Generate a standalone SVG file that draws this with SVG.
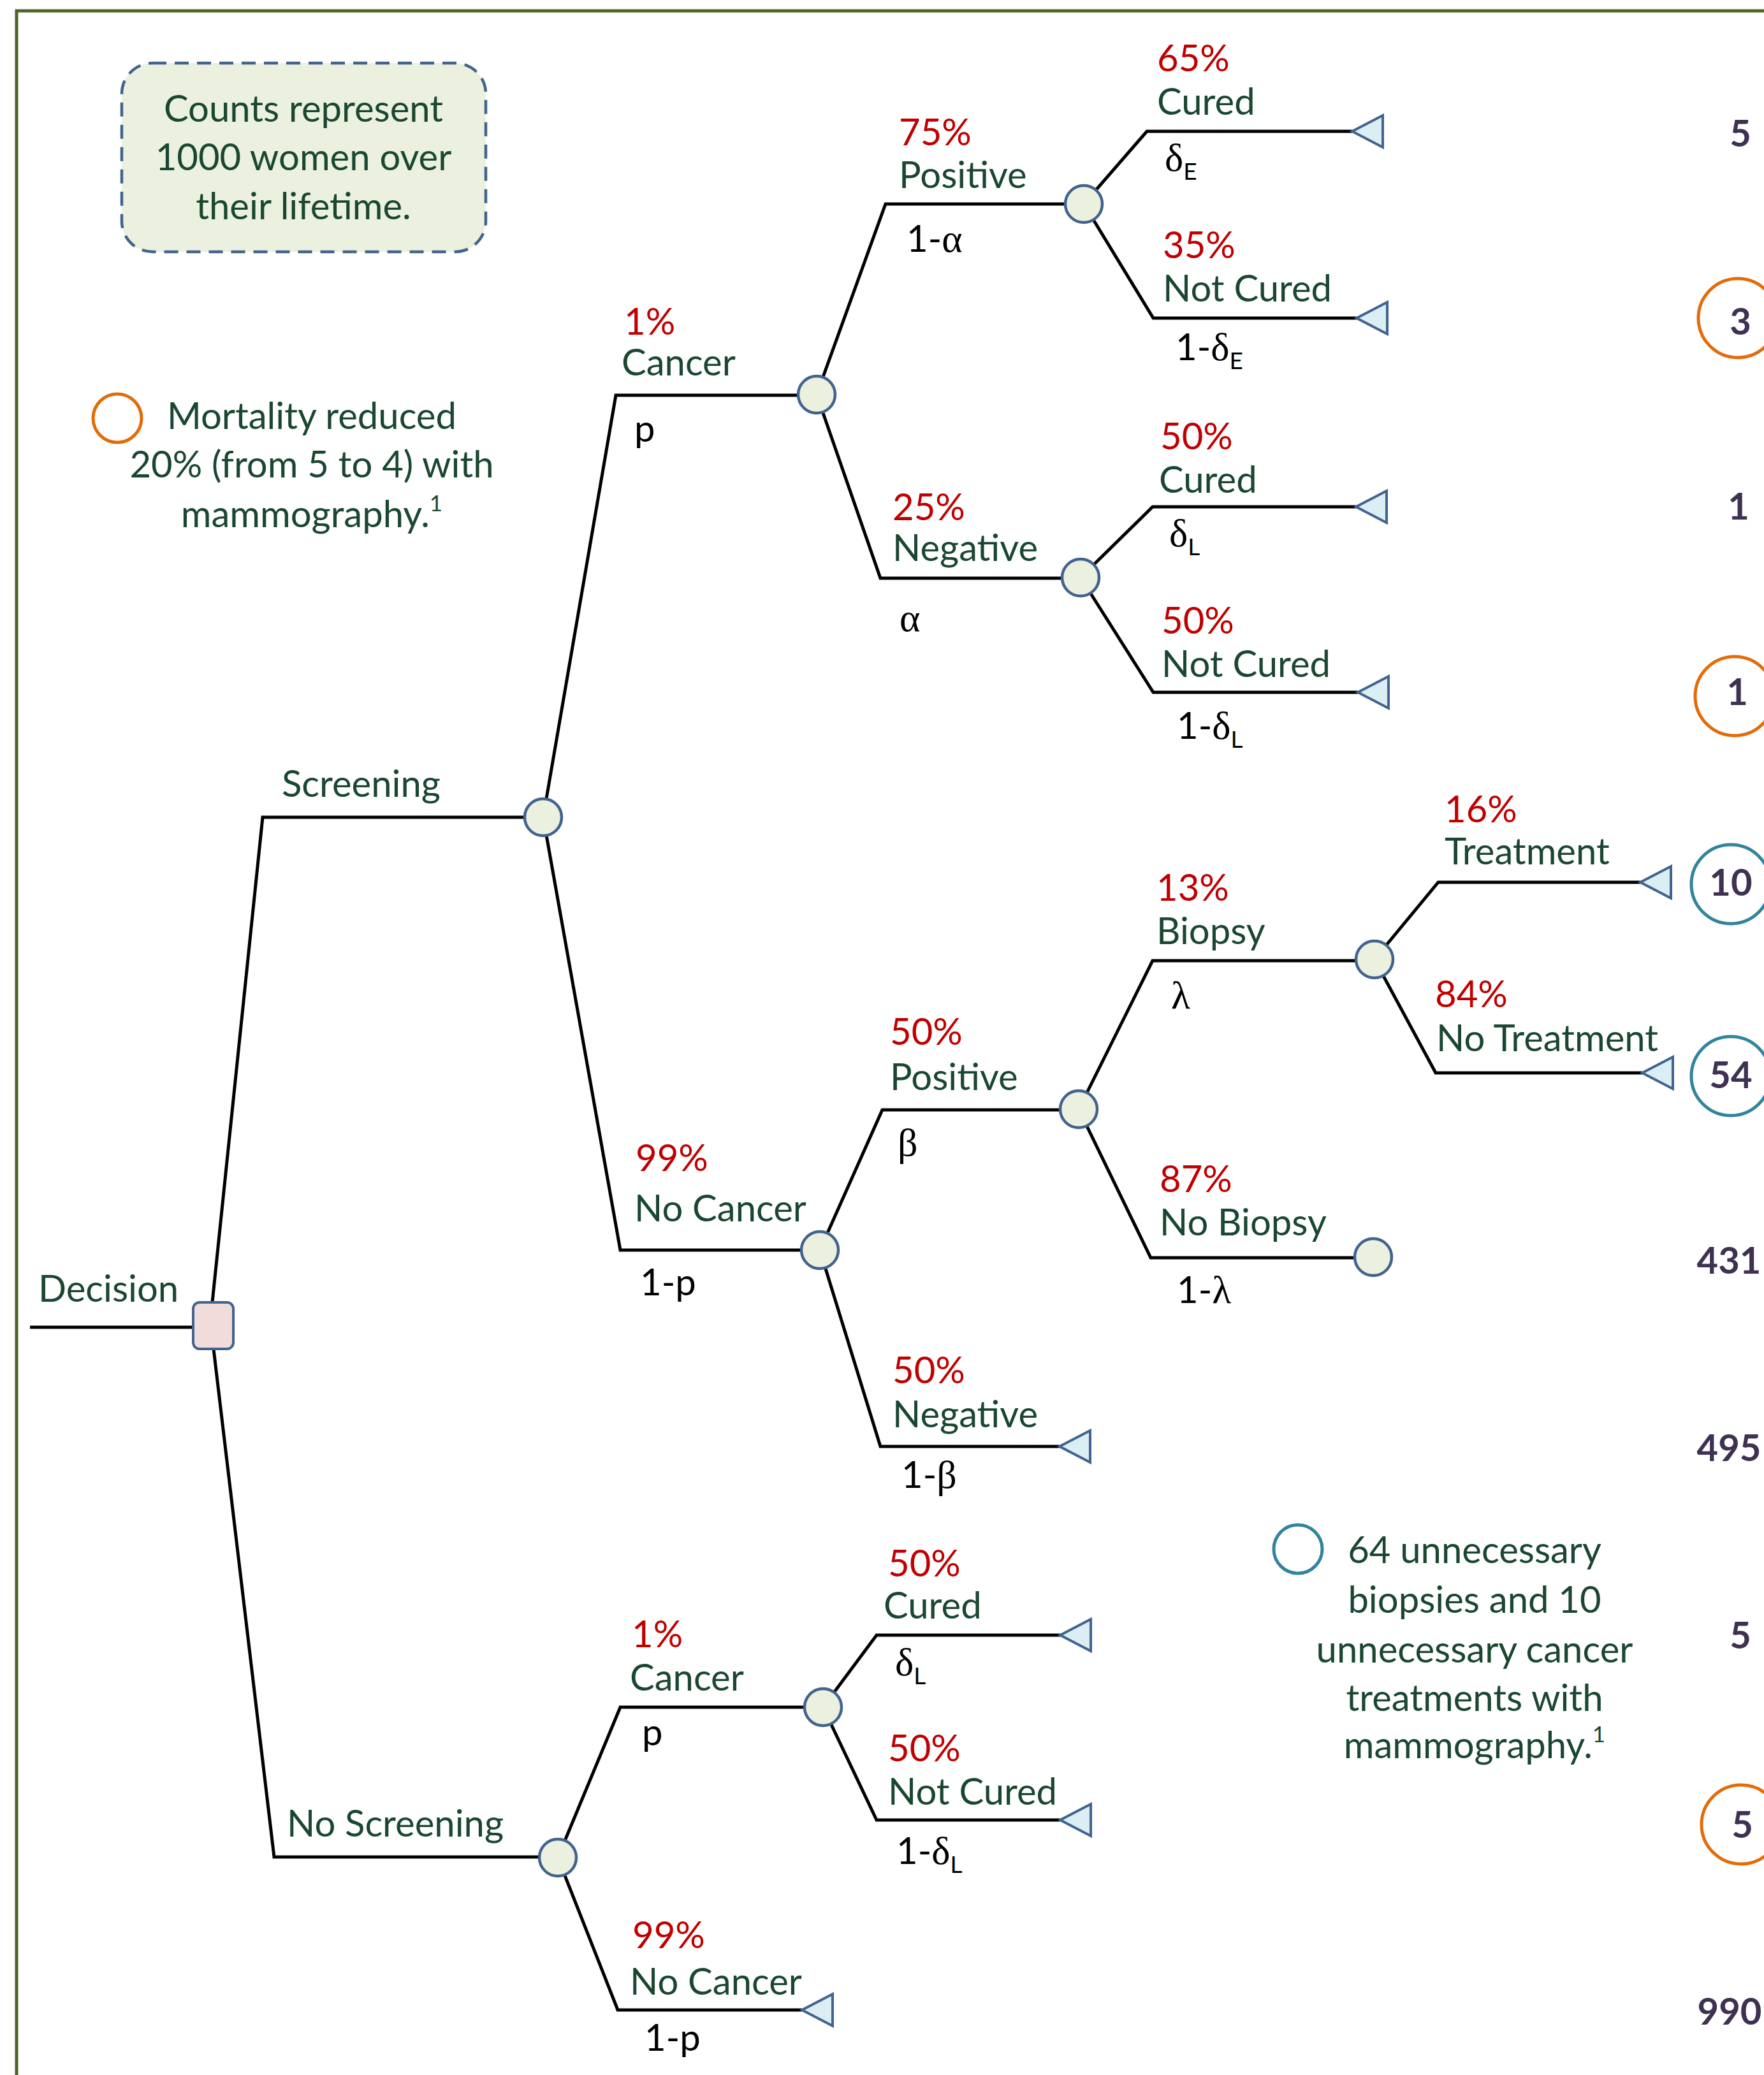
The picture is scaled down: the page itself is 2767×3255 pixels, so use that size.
<svg xmlns="http://www.w3.org/2000/svg" xmlns:xlink="http://www.w3.org/1999/xlink" width="2767" height="3255" viewBox="0 0 2767 3255">
<style>
.t{font-family:Lato,"Liberation Sans",sans-serif;font-size:58px}
.lbl{fill:#1a4731}
.pct{fill:#c00000}
.gk{fill:#000000}
.sym{font-family:"Liberation Serif",serif;font-size:62px}
.sub{font-size:37px}
.num{font-family:Lato,"Liberation Sans",sans-serif;font-size:58px;font-weight:bold;fill:#3f3151;text-anchor:middle}
.note{fill:#1a4731;text-anchor:middle}
.br{fill:none;stroke:#000000;stroke-width:5;stroke-linejoin:miter}
.chance{fill:#ebf1de;stroke:#41638f;stroke-width:4.5}
.term{fill:#dbeef4;stroke:#41638f;stroke-width:4;stroke-linejoin:miter}
.oc{fill:none;stroke:#e36c09;stroke-width:5}
.tc{fill:none;stroke:#31849b;stroke-width:5}
</style>
<defs>
<path id="tri" d="M0,0 L48,-25 L48,25 Z"/>
</defs>
<rect x="0" y="0" width="2767" height="3255" fill="#ffffff"/>
<rect id="frame" x="26" y="17" width="2800" height="3300" fill="none" stroke="#4f6228" stroke-width="5"/>

<g id="counts-note">
<rect x="191" y="99" width="571" height="296" rx="48" fill="#ebf1de" stroke="#41638f" stroke-width="4.5" stroke-dasharray="22,13"/>
<text class="t note" x="476" y="191">Counts represent</text>
<text class="t note" x="476" y="267">1000 women over</text>
<text class="t note" x="476" y="344">their lifetime.</text>
</g>

<g id="mortality-note">
<circle class="oc" cx="184" cy="656" r="38" stroke-width="6"/>
<text class="t note" x="489" y="673">Mortality reduced</text>
<text class="t note" x="489" y="749">20% (from 5 to 4) with</text>
<text class="t note" x="489" y="827">mammography.<tspan font-size="35" dy="-25">1</tspan></text>
</g>

<g id="biopsy-note">
<circle class="tc" cx="2036" cy="2430" r="38" stroke-width="6"/>
<text class="t note" x="2313" y="2452">64 unnecessary</text>
<text class="t note" x="2313" y="2530">biopsies and 10</text>
<text class="t note" x="2313" y="2608">unnecessary cancer</text>
<text class="t note" x="2313" y="2684">treatments with</text>
<text class="t note" x="2313" y="2758">mammography.<tspan font-size="35" dy="-25">1</tspan></text>
</g>

<g id="connectors">
<path class="br" d="M47,2082 H333"/>
<path class="br" d="M333,2043 L412,1282 H852"/>
<path class="br" d="M335,2116 L430,2913 H875"/>
<path class="br" d="M852,1282 L966,620 H1281"/>
<path class="br" d="M852,1282 L973,1961 H1286"/>
<path class="br" d="M1281,619 L1389,320 H1700"/>
<path class="br" d="M1281,619 L1381,907 H1695"/>
<path class="br" d="M1700,320 L1799,206 H2121"/>
<path class="br" d="M1700,320 L1809,499 H2128"/>
<path class="br" d="M1695,906 L1808,795 H2127"/>
<path class="br" d="M1695,906 L1809,1086 H2130"/>
<path class="br" d="M1286,1961 L1384,1741 H1692"/>
<path class="br" d="M1286,1961 L1381,2269 H1662"/>
<path class="br" d="M1692,1740 L1808,1507 H2156"/>
<path class="br" d="M1692,1740 L1805,1973 H2154"/>
<path class="br" d="M2156,1505 L2256,1384 H2573"/>
<path class="br" d="M2156,1505 L2252,1683 H2576"/>
<path class="br" d="M875,2914 L973,2678 H1291"/>
<path class="br" d="M875,2914 L969,3153 H1258"/>
<path class="br" d="M1291,2678 L1375,2565 H1663"/>
<path class="br" d="M1291,2678 L1375,2855 H1663"/>
</g>

<g id="decision">
<rect x="303" y="2043" width="63" height="73" rx="10" fill="#f2dcdb" stroke="#41638f" stroke-width="4"/>
<text class="t lbl" x="60" y="2042">Decision</text>
</g>

<g id="n-screening"><circle class="chance" cx="852" cy="1282" r="29"/></g>
<g id="n-s-cancer"><circle class="chance" cx="1281" cy="619" r="29"/></g>
<g id="n-s-pos"><circle class="chance" cx="1700" cy="320" r="29"/></g>
<g id="n-s-neg"><circle class="chance" cx="1695" cy="906" r="29"/></g>
<g id="n-s-nocancer"><circle class="chance" cx="1286" cy="1961" r="29"/></g>
<g id="n-s-nc-pos"><circle class="chance" cx="1692" cy="1740" r="29"/></g>
<g id="n-biopsy"><circle class="chance" cx="2156" cy="1505" r="29"/></g>
<g id="n-nobiopsy"><circle class="chance" cx="2154" cy="1972" r="29"/></g>
<g id="n-noscreening"><circle class="chance" cx="875" cy="2914" r="29"/></g>
<g id="n-ns-cancer"><circle class="chance" cx="1291" cy="2678" r="29"/></g>

<g id="t1"><use xlink:href="#tri" href="#tri" class="term" transform="translate(2121,206)"/></g>
<g id="t2"><use xlink:href="#tri" href="#tri" class="term" transform="translate(2128,499)"/></g>
<g id="t3"><use xlink:href="#tri" href="#tri" class="term" transform="translate(2127,795)"/></g>
<g id="t4"><use xlink:href="#tri" href="#tri" class="term" transform="translate(2130,1086)"/></g>
<g id="t5"><use xlink:href="#tri" href="#tri" class="term" transform="translate(2573,1384)"/></g>
<g id="t6"><use xlink:href="#tri" href="#tri" class="term" transform="translate(2576,1683)"/></g>
<g id="t7"><use xlink:href="#tri" href="#tri" class="term" transform="translate(1662,2269)"/></g>
<g id="t8"><use xlink:href="#tri" href="#tri" class="term" transform="translate(1663,2565)"/></g>
<g id="t9"><use xlink:href="#tri" href="#tri" class="term" transform="translate(1663,2855)"/></g>
<g id="t10"><use xlink:href="#tri" href="#tri" class="term" transform="translate(1258,3153)"/></g>

<g id="labels">
<text class="t lbl" x="442" y="1250">Screening</text>
<text class="t lbl" x="450" y="2881">No Screening</text>

<text class="t pct" x="979" y="525">1%</text>
<text class="t lbl" x="975" y="589">Cancer</text>
<text class="t gk" x="995" y="693">p</text>

<text class="t pct" x="997" y="1837">99%</text>
<text class="t lbl" x="995" y="1916">No Cancer</text>
<text class="t gk" x="1004" y="2032">1-p</text>

<text class="t pct" x="1410" y="228">75%</text>
<text class="t lbl" x="1410" y="295">Positive</text>
<text class="t gk" x="1422" y="395">1-<tspan class="sym">α</tspan></text>

<text class="t pct" x="1400" y="816">25%</text>
<text class="t lbl" x="1400" y="880">Negative</text>
<text class="t gk" x="1411" y="990"><tspan class="sym">α</tspan></text>

<text class="t pct" x="1815" y="112">65%</text>
<text class="t lbl" x="1815" y="180">Cured</text>
<text class="t gk" x="1827" y="268"><tspan class="sym">δ</tspan><tspan class="sub" dy="14">E</tspan></text>

<text class="t pct" x="1824" y="405">35%</text>
<text class="t lbl" x="1824" y="473">Not Cured</text>
<text class="t gk" x="1844" y="565">1-<tspan class="sym">δ</tspan><tspan class="sub" dy="14">E</tspan></text>

<text class="t pct" x="1820" y="705">50%</text>
<text class="t lbl" x="1818" y="773">Cured</text>
<text class="t gk" x="1834" y="857"><tspan class="sym">δ</tspan><tspan class="sub" dy="14">L</tspan></text>

<text class="t pct" x="1822" y="994">50%</text>
<text class="t lbl" x="1822" y="1062">Not Cured</text>
<text class="t gk" x="1846" y="1159">1-<tspan class="sym">δ</tspan><tspan class="sub" dy="14">L</tspan></text>

<text class="t pct" x="1396" y="1639">50%</text>
<text class="t lbl" x="1396" y="1710">Positive</text>
<text class="t gk" x="1408" y="1813"><tspan class="sym">β</tspan></text>

<text class="t pct" x="1400" y="2170">50%</text>
<text class="t lbl" x="1400" y="2239">Negative</text>
<text class="t gk" x="1414" y="2334">1-<tspan class="sym">β</tspan></text>

<text class="t pct" x="1814" y="1413">13%</text>
<text class="t lbl" x="1814" y="1481">Biopsy</text>
<text class="t gk" x="1837" y="1582"><tspan class="sym">λ</tspan></text>

<text class="t pct" x="1819" y="1870">87%</text>
<text class="t lbl" x="1819" y="1938">No Biopsy</text>
<text class="t gk" x="1846" y="2044">1-<tspan class="sym">λ</tspan></text>

<text class="t pct" x="2266" y="1290">16%</text>
<text class="t lbl" x="2266" y="1356">Treatment</text>

<text class="t pct" x="2251" y="1580">84%</text>
<text class="t lbl" x="2253" y="1649">No Treatment</text>

<text class="t pct" x="991" y="2584">1%</text>
<text class="t lbl" x="988" y="2652">Cancer</text>
<text class="t gk" x="1007" y="2738">p</text>

<text class="t pct" x="992" y="3056">99%</text>
<text class="t lbl" x="988" y="3129">No Cancer</text>
<text class="t gk" x="1011" y="3217">1-p</text>

<text class="t pct" x="1393" y="2473">50%</text>
<text class="t lbl" x="1386" y="2539">Cured</text>
<text class="t gk" x="1404" y="2628"><tspan class="sym">δ</tspan><tspan class="sub" dy="14">L</tspan></text>

<text class="t pct" x="1393" y="2763">50%</text>
<text class="t lbl" x="1393" y="2831">Not Cured</text>
<text class="t gk" x="1406" y="2924">1-<tspan class="sym">δ</tspan><tspan class="sub" dy="14">L</tspan></text>
</g>

<g id="outcomes">
<text class="num" x="2730" y="230">5</text>
<circle class="oc" cx="2726" cy="499" r="62"/>
<text class="num" x="2730" y="525">3</text>
<text class="num" x="2727" y="815">1</text>
<circle class="oc" cx="2721" cy="1092" r="62"/>
<text class="num" x="2725" y="1106">1</text>
<circle class="tc" cx="2715" cy="1387" r="62"/>
<text class="num" x="2715" y="1405">10</text>
<circle class="tc" cx="2715" cy="1688" r="62"/>
<text class="num" x="2715" y="1707">54</text>
<text class="num" x="2712" y="1998">431</text>
<text class="num" x="2712" y="2292">495</text>
<text class="num" x="2730" y="2586">5</text>
<circle class="oc" cx="2731" cy="2862" r="62"/>
<text class="num" x="2733" y="2883">5</text>
<text class="num" x="2713" y="3176">990</text>
</g>
</svg>
